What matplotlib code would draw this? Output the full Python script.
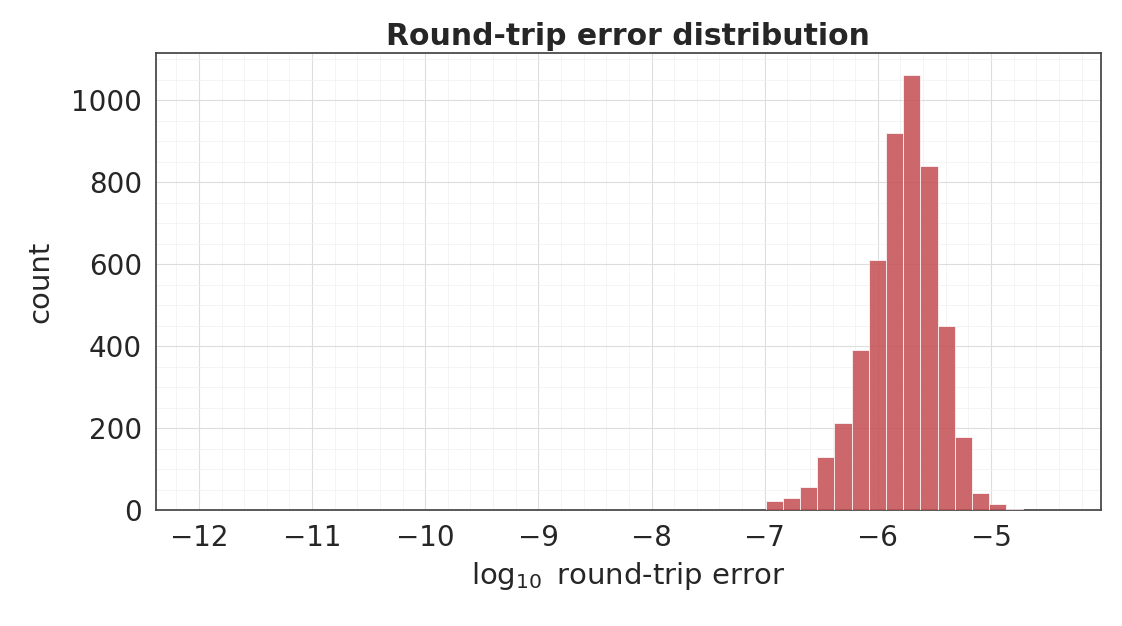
import numpy as np
import matplotlib
matplotlib.use("Agg")
import matplotlib.pyplot as plt
import seaborn as sns

sns.set_theme(style="white", font_scale=1.0)
plt.rcParams['font.family'] = ['DejaVu Sans']

data_min, data_max = -12.0, -4.41
n_bins = 50
counts = [1] + [0]*32 + [22, 30, 57, 130, 212, 390, 610, 920, 1062, 840, 450, 178, 43, 14, 3, 1, 0]
edges = np.linspace(data_min, data_max, n_bins + 1)

fig, ax = plt.subplots(figsize=(11.22, 6.26), dpi=100)
ax.bar(edges[:-1], counts, width=np.diff(edges), align='edge',
       color='#C44E52', alpha=0.85, edgecolor='white', linewidth=0.6, zorder=3)
ax.set_xlim(data_min - 0.05*(data_max-data_min), data_max + 0.05*(data_max-data_min))
ax.set_ylim(0, 1115)
ax.set_xticks(range(-12, -4))
ax.minorticks_on()
ax.grid(True, which='major', color='#dddddd', linewidth=0.8, zorder=0)
ax.grid(True, which='minor', color='#f0f0f0', linewidth=0.5, zorder=0)
for s in ax.spines.values():
    s.set_color('#444444')
ax.tick_params(labelsize=20, colors='#262626', which='major', length=0, pad=10)
ax.tick_params(which='minor', length=0)
ax.set_title('Round-trip error distribution', fontsize=21.5, fontweight='bold', color='#262626', pad=6)
ax.set_xlabel(r'$\log_{10}$ round-trip error', fontsize=21, color='#262626', labelpad=6)
ax.set_ylabel('count', fontsize=21, color='#262626', labelpad=12)
fig.subplots_adjust(left=0.139, right=0.981, top=0.915, bottom=0.185)
fig.savefig('out.png', dpi=100)
